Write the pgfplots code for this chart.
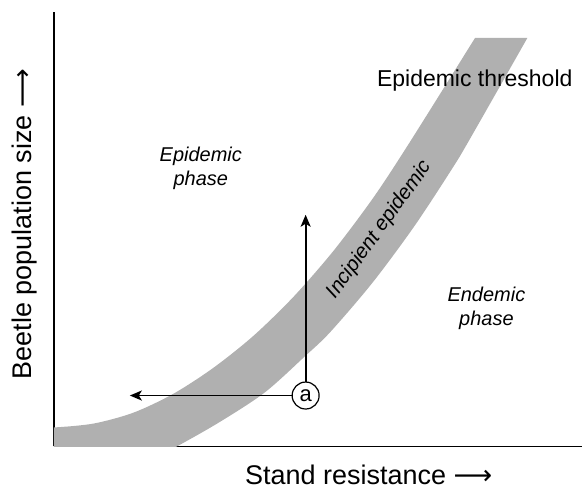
\documentclass[border=0pt]{standalone}
\usepackage{fontspec}
\setmainfont{Liberation Sans}
\newfontfamily\dejavu{DejaVu Sans}
\usepackage{pgfplots}
\pgfplotsset{compat=1.18}
\usepgfplotslibrary{fillbetween}
\usetikzlibrary{arrows.meta}
\definecolor{band}{RGB}{176,176,176}
\begin{document}
\begin{tikzpicture}
\begin{axis}[
  x=1pt, y=1pt,
  xmin=54, xmax=583, ymin=44, ymax=479,
  axis lines=left,
  axis line style={-, line width=1.4pt, black},
  xtick=\empty, ytick=\empty,
  clip mode=individual,
]
\path (axis cs:0,0) rectangle (axis cs:583,491);
% upper (left) edge of the threshold band
\addplot[name path=upper, draw=none, smooth] coordinates {
  (20,62) (54,63) (94,67) (134,78) (174,97) (214,123) (254,155)
  (294,194) (334,240) (374,293.4) (410,348.2) (475.6,453)};
% lower (right) edge of the threshold band
\addplot[name path=lower, draw=none, smooth] coordinates {
  (100,6) (140,25) (177,44) (220,68.5) (265,98) (305,134) (330.7,158.6)
  (373.2,208.3) (415.1,264.9) (452.4,321.7) (470,351) (528,453)};
\addplot[band, draw=none] fill between[of=upper and lower];

\draw[line width=1.8pt, -{Stealth[length=12pt,width=10pt,inset=3pt]}] (axis cs:306,95) -- (axis cs:306,276);
\draw[line width=1.8pt, -{Stealth[length=12pt,width=10pt,inset=3pt]}] (axis cs:306,95) -- (axis cs:130,95);
\node[circle, draw, line width=1.2pt, fill=white, minimum size=27pt, inner sep=0pt,
      font=\fontsize{22}{22}\selectfont] at (axis cs:306,95) {a};

\node[anchor=base west, font=\fontsize{23}{28}\selectfont] at (axis cs:374,404) {Epidemic threshold};
\node[anchor=base, font=\itshape\fontsize{20}{24}\selectfont] at (axis cs:201,329) {Epidemic};
\node[anchor=base, font=\itshape\fontsize{20}{24}\selectfont] at (axis cs:201,305) {phase};
\node[anchor=base, font=\itshape\fontsize{20}{24}\selectfont] at (axis cs:487,189) {Endemic};
\node[anchor=base, font=\itshape\fontsize{20}{24}\selectfont] at (axis cs:487,165) {phase};
\node[rotate=54, font=\itshape\fontsize{20.5}{24}\selectfont] at (axis cs:380,261) {Incipient epidemic};

\node[anchor=base west, font=\fontsize{27}{32}\selectfont] at (axis cs:242,6) {Stand resistance {\dejavu ⟶}};
\node[anchor=base west, rotate=90, font=\fontsize{27}{32}\selectfont] at (axis cs:32,108) {Beetle population size {\dejavu ⟶}};
\end{axis}
\end{tikzpicture}
\end{document}
